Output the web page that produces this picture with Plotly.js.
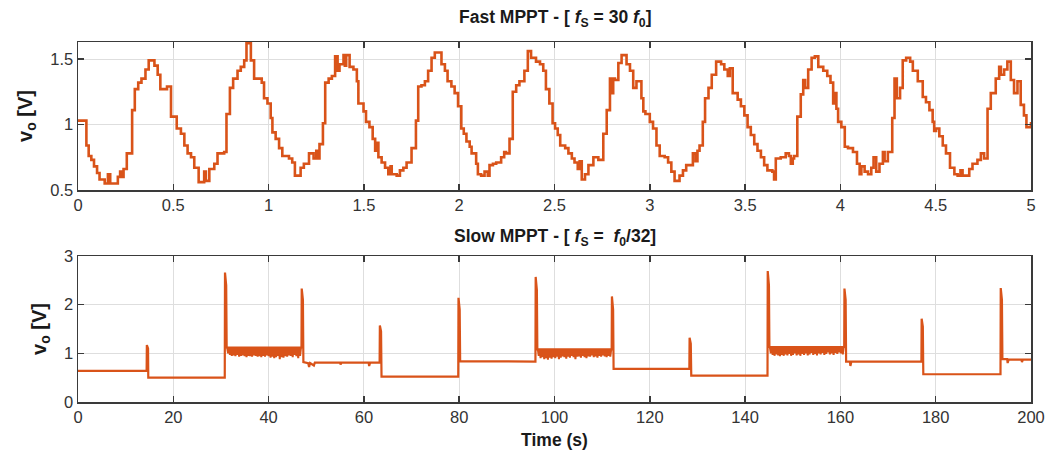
<!DOCTYPE html>
<html><head><meta charset="utf-8">
<script src="https://cdn.plot.ly/plotly-3.0.1.min.js"></script>
<style>html,body{margin:0;padding:0;background:#fff}#chart{width:1061px;height:455px}</style>
</head><body><div id="chart"></div>
<script>
// ---- Fast MPPT (f_S = 30 f0): stepped output voltage, 0..5 s ----
const fastTime = [
0,0.044,0.056,0.07,0.084,0.10,0.113,0.14,0.157,0.169,0.209,0.221,0.232,0.239,0.256,0.284,0.298,0.316,0.333,0.354,0.371,0.401,0.418,0.432,0.467,0.488,
0.518,0.540,0.558,0.575,0.593,0.610,0.633,0.662,0.671,0.689,0.715,0.732,0.767,0.779,0.797,0.814,0.837,0.854,0.872,0.884,0.907,0.924,0.964,0.976,0.994,
1.011,1.020,1.037,1.055,1.072,1.107,1.124,1.138,1.168,1.185,1.212,1.236,1.250,1.262,1.267,1.285,1.297,1.315,1.332,1.349,1.362,1.372,1.393,1.400,1.407,1.425,1.445,1.463,1.471,1.498,
1.511,1.529,1.546,1.559,1.565,1.576,1.593,1.611,1.628,1.640,1.646,1.672,1.689,1.707,1.724,1.750,1.773,1.785,1.802,1.820,1.837,1.855,1.872,1.907,1.925,1.939,1.959,1.976,1.994,
2.011,2.024,2.038,2.055,2.065,2.076,2.089,2.098,2.115,2.133,2.150,2.159,2.177,2.194,2.220,2.236,2.246,2.264,2.281,2.299,2.316,2.342,2.360,2.377,2.403,2.424,2.441,2.455,2.473,
2.490,2.503,2.517,2.530,2.556,2.573,2.591,2.605,2.622,2.632,2.643,2.660,2.678,2.704,2.730,2.756,2.774,2.791,2.800,2.808,2.817,2.835,2.852,2.878,2.896,2.913,2.930,2.956,2.966,2.977,
3.000,3.017,3.035,3.052,3.078,3.096,3.113,3.130,3.156,3.174,3.191,3.209,3.226,3.240,3.250,3.261,3.278,3.290,3.308,3.325,3.348,3.374,3.391,3.409,3.420,3.435,3.461,3.478,3.496,
3.513,3.530,3.548,3.565,3.583,3.600,3.617,3.643,3.652,3.661,3.687,3.713,3.730,3.740,3.750,3.757,3.774,3.792,3.805,3.815,3.831,3.849,3.866,3.884,3.910,3.931,3.948,3.962,3.970,3.979,3.988,
4.005,4.023,4.040,4.066,4.087,4.101,4.110,4.127,4.145,4.162,4.174,4.188,4.205,4.223,4.232,4.249,4.272,4.284,4.296,4.313,4.327,4.345,4.366,4.380,4.406,4.432,4.449,4.467,4.484,4.492,
4.502,4.519,4.537,4.554,4.575,4.598,4.615,4.630,4.641,4.676,4.693,4.719,4.737,4.754,4.772,4.789,4.815,4.833,4.842,4.859,4.876,4.894,4.911,4.929,4.946,4.963,4.976,5.0];
const fastVolt = [
1.03,0.84,0.76,0.73,0.68,0.63,0.58,0.55,0.62,0.55,0.60,0.64,0.60,0.66,0.78,1.11,1.27,1.32,1.35,1.42,1.49,1.45,1.38,1.27,1.29,1.06,
0.97,0.93,0.84,0.78,0.75,0.67,0.56,0.64,0.57,0.66,0.70,0.78,0.79,1.08,1.28,1.35,1.41,1.44,1.49,1.62,1.49,1.35,1.32,1.20,1.16,
1.05,0.94,0.89,0.82,0.76,0.74,0.71,0.61,0.67,0.70,0.78,0.74,0.80,0.74,0.85,1.01,1.32,1.35,1.37,1.52,1.41,1.46,1.53,1.45,1.53,1.44,1.42,1.33,1.16,1.10,
1.02,0.98,0.89,0.80,0.86,0.75,0.71,0.67,0.62,0.68,0.62,0.61,0.65,0.67,0.71,0.82,1.03,1.29,1.30,1.33,1.41,1.51,1.55,1.46,1.41,1.33,1.29,1.24,1.14,
0.97,0.93,0.87,0.83,0.78,0.78,0.70,0.62,0.61,0.64,0.61,0.69,0.70,0.71,0.75,0.79,0.78,0.89,1.25,1.30,1.33,1.41,1.56,1.51,1.48,1.46,1.41,1.27,1.16,
1.01,0.97,0.92,0.84,0.82,0.78,0.74,0.71,0.66,0.72,0.58,0.62,0.69,0.75,0.73,0.93,1.11,1.35,1.24,1.35,1.34,1.47,1.53,1.46,1.41,1.28,1.33,1.20,1.10,1.08,
1.02,0.97,0.84,0.76,0.75,0.71,0.64,0.57,0.61,0.65,0.69,0.69,0.78,0.72,0.80,0.84,1.02,1.20,1.28,1.38,1.48,1.46,1.42,1.37,1.43,1.24,1.19,1.14,1.07,
0.98,0.92,0.85,0.80,0.75,0.69,0.65,0.64,0.58,0.74,0.75,0.78,0.76,0.70,0.74,0.76,1.06,1.23,1.34,1.28,1.42,1.51,1.52,1.44,1.41,1.37,1.32,1.16,1.24,1.12,1.02,
0.98,0.83,0.82,0.79,0.70,0.62,0.68,0.64,0.62,0.67,0.75,0.64,0.70,0.79,0.72,0.79,1.05,1.35,1.20,1.28,1.49,1.51,1.48,1.41,1.33,1.21,1.17,1.11,1.02,0.95,
0.97,0.91,0.84,0.78,0.67,0.62,0.61,0.65,0.61,0.66,0.70,0.73,0.78,0.74,1.12,1.24,1.35,1.44,1.38,1.42,1.48,1.34,1.24,1.33,1.15,1.07,0.98,1.02];

// ---- Slow MPPT (f_S = f0/32): output voltage, 0..200 s ----
const slowTime = [0,14.4,14.45,14.7,14.75,30.8,30.85,31.1,31.2,46.9,46.95,47.2,47.3,48.3,48.5,48.7,49.5,49.7,55,55.1,55.3,61,61.1,61.3,63.3,63.35,63.6,63.7,79.8,79.85,80.1,80.2,96,96.05,96.3,96.4,112.0,112.05,112.3,112.4,128.3,128.35,128.6,128.7,144.7,144.75,145.0,145.1,160.8,160.85,161.1,161.2,162,162.1,162.3,177.0,177.05,177.3,177.4,193.6,193.65,193.9,194.0,195,195.1,195.3,198,198.1,198.3,200];
const slowVolt = [0.64,0.64,1.17,1.10,0.50,0.50,2.66,2.40,1.12,1.12,2.33,2.10,0.82,0.80,0.72,0.80,0.75,0.81,0.81,0.77,0.81,0.81,0.74,0.81,0.81,1.57,1.45,0.52,0.52,2.14,1.90,0.84,0.83,2.57,2.30,1.08,1.08,2.17,1.90,0.68,0.68,1.32,1.20,0.54,0.54,2.69,2.40,1.13,1.13,2.33,2.10,0.83,0.83,0.74,0.83,0.83,1.71,1.55,0.57,0.57,2.34,2.10,0.88,0.88,0.80,0.87,0.87,0.82,0.87,0.87];
// ripple bands on the high-power steps: start, end, upper level, lower excursions
const rippleStart = [31.3, 96.5, 145.2];
const rippleEnd   = [46.8, 111.9, 160.7];
const rippleHigh  = [1.12, 1.08, 1.13];
const rippleLowA = [1.00,0.97,0.95,0.96,0.94,0.97,0.93,0.95,0.96,0.94,0.92,0.95,0.94,0.93,0.96,0.95,0.93,0.94,0.92,0.95,0.93,0.96,0.94,0.91,0.93,0.90,0.92,0.95,0.88,0.92,0.91,0.94,0.93,0.96,0.95,0.92,0.97,0.94,0.90,0.95];
const rippleLowB = [0.95,0.90,0.92,0.88,0.90,0.87,0.91,0.89,0.92,0.90,0.93,0.88,0.91,0.94,0.92,0.89,0.93,0.91,0.95,0.92,0.88,0.93,0.94,0.91,0.95,0.92,0.90,0.94,0.93,0.96,0.92,0.94,0.91,0.95,0.93,0.96,0.94,0.92,0.95,0.93];
const rippleLowC = [1.00,0.97,0.95,0.98,0.96,0.94,0.97,0.95,0.98,0.96,0.99,0.95,0.97,1.00,0.96,0.98,0.95,0.99,0.97,1.00,0.96,0.98,1.01,0.97,0.99,0.96,1.00,0.98,1.01,0.97,0.99,1.02,0.98,1.00,0.97,1.01,0.99,1.02,1.00,0.98];

const xTicksFast = [0,0.5,1,1.5,2,2.5,3,3.5,4,4.5,5];
const yTicksFast = [0.5,1,1.5];
const xTicksSlow = [0,20,40,60,80,100,120,140,160,180,200];
const yTicksSlow = [0,1,2,3];

const lineColor = '#D95319';
const traces = [
  {x: fastTime, y: fastVolt, type:'scatter', mode:'lines', line:{color:lineColor, width:2.6, shape:'hv'}, xaxis:'x', yaxis:'y'},
  {x: slowTime, y: slowVolt, type:'scatter', mode:'lines', line:{color:lineColor, width:2.2}, xaxis:'x2', yaxis:'y2'}
];
const lows = [rippleLowA, rippleLowB, rippleLowC];
for (let k = 0; k < 3; k++) {
  const xs = [], ys = [];
  const n = lows[k].length;
  const dt = (rippleEnd[k] - rippleStart[k]) / (2 * n);
  for (let i = 0; i < n; i++) {
    xs.push(rippleStart[k] + 2 * i * dt); ys.push(rippleHigh[k]);
    xs.push(rippleStart[k] + (2 * i + 1) * dt); ys.push(lows[k][i]);
  }
  xs.push(rippleEnd[k]); ys.push(rippleHigh[k]);
  traces.push({x: xs, y: ys, type:'scatter', mode:'lines', line:{color:lineColor, width:2}, xaxis:'x2', yaxis:'y2'});
}

const font = 'Liberation Sans, Arial, sans-serif';
const axBase = {
  showline:true, linecolor:'#3a3a3a', linewidth:1.5, mirror:'ticks',
  ticks:'inside', ticklen:6, tickwidth:1.5, tickcolor:'#3a3a3a',
  showgrid:true, gridcolor:'#dedede', gridwidth:1, zeroline:false,
  tickfont:{family:font, size:16.5, color:'#333'}, fixedrange:true
};
const H = 455;
const layout = {
  width:1061, height:455, showlegend:false,
  paper_bgcolor:'#fff', plot_bgcolor:'#fff',
  margin:{l:78, r:30, t:0, b:0},
  font:{family:font},
  xaxis: Object.assign({}, axBase, {domain:[0,1], range:[0,5], tickvals:xTicksFast, anchor:'y'}),
  yaxis: Object.assign({}, axBase, {domain:[1-190/H, 1-42/H], range:[0.5,1.63], tickvals:yTicksFast, anchor:'x',
          title:{text:'<b>v<sub>o</sub> [V]</b>', font:{family:font, size:20, color:'#1a1a1a'}, standoff:12}}),
  xaxis2: Object.assign({}, axBase, {domain:[0,1], range:[0,200], tickvals:xTicksSlow, anchor:'y2',
          title:{text:'<b>Time (s)</b>', font:{family:font, size:17.5, color:'#1a1a1a'}, standoff:8}}),
  yaxis2: Object.assign({}, axBase, {domain:[1-402/H, 1-256/H], range:[0,3], tickvals:yTicksSlow, anchor:'x2',
          title:{text:'<b>v<sub>o</sub> [V]</b>', font:{family:font, size:20, color:'#1a1a1a'}, standoff:12}}),
  annotations:[
    {text:'<b>Fast MPPT - [ <i>f</i><sub>S</sub> = 30 <i>f</i><sub>0</sub>]</b>', xref:'paper', yref:'paper',
     x:0.5, y:1-19/H, xanchor:'center', yanchor:'middle', showarrow:false, font:{family:font, size:17.5, color:'#1a1a1a'}},
    {text:'<b>Slow MPPT - [ <i>f</i><sub>S</sub> =  <i>f</i><sub>0</sub>/32]</b>', xref:'paper', yref:'paper',
     x:0.5, y:1-237/H, xanchor:'center', yanchor:'middle', showarrow:false, font:{family:font, size:17.5, color:'#1a1a1a'}}
  ]
};
Plotly.newPlot('chart', traces, layout, {displayModeBar:false, staticPlot:true});
</script></body></html>
